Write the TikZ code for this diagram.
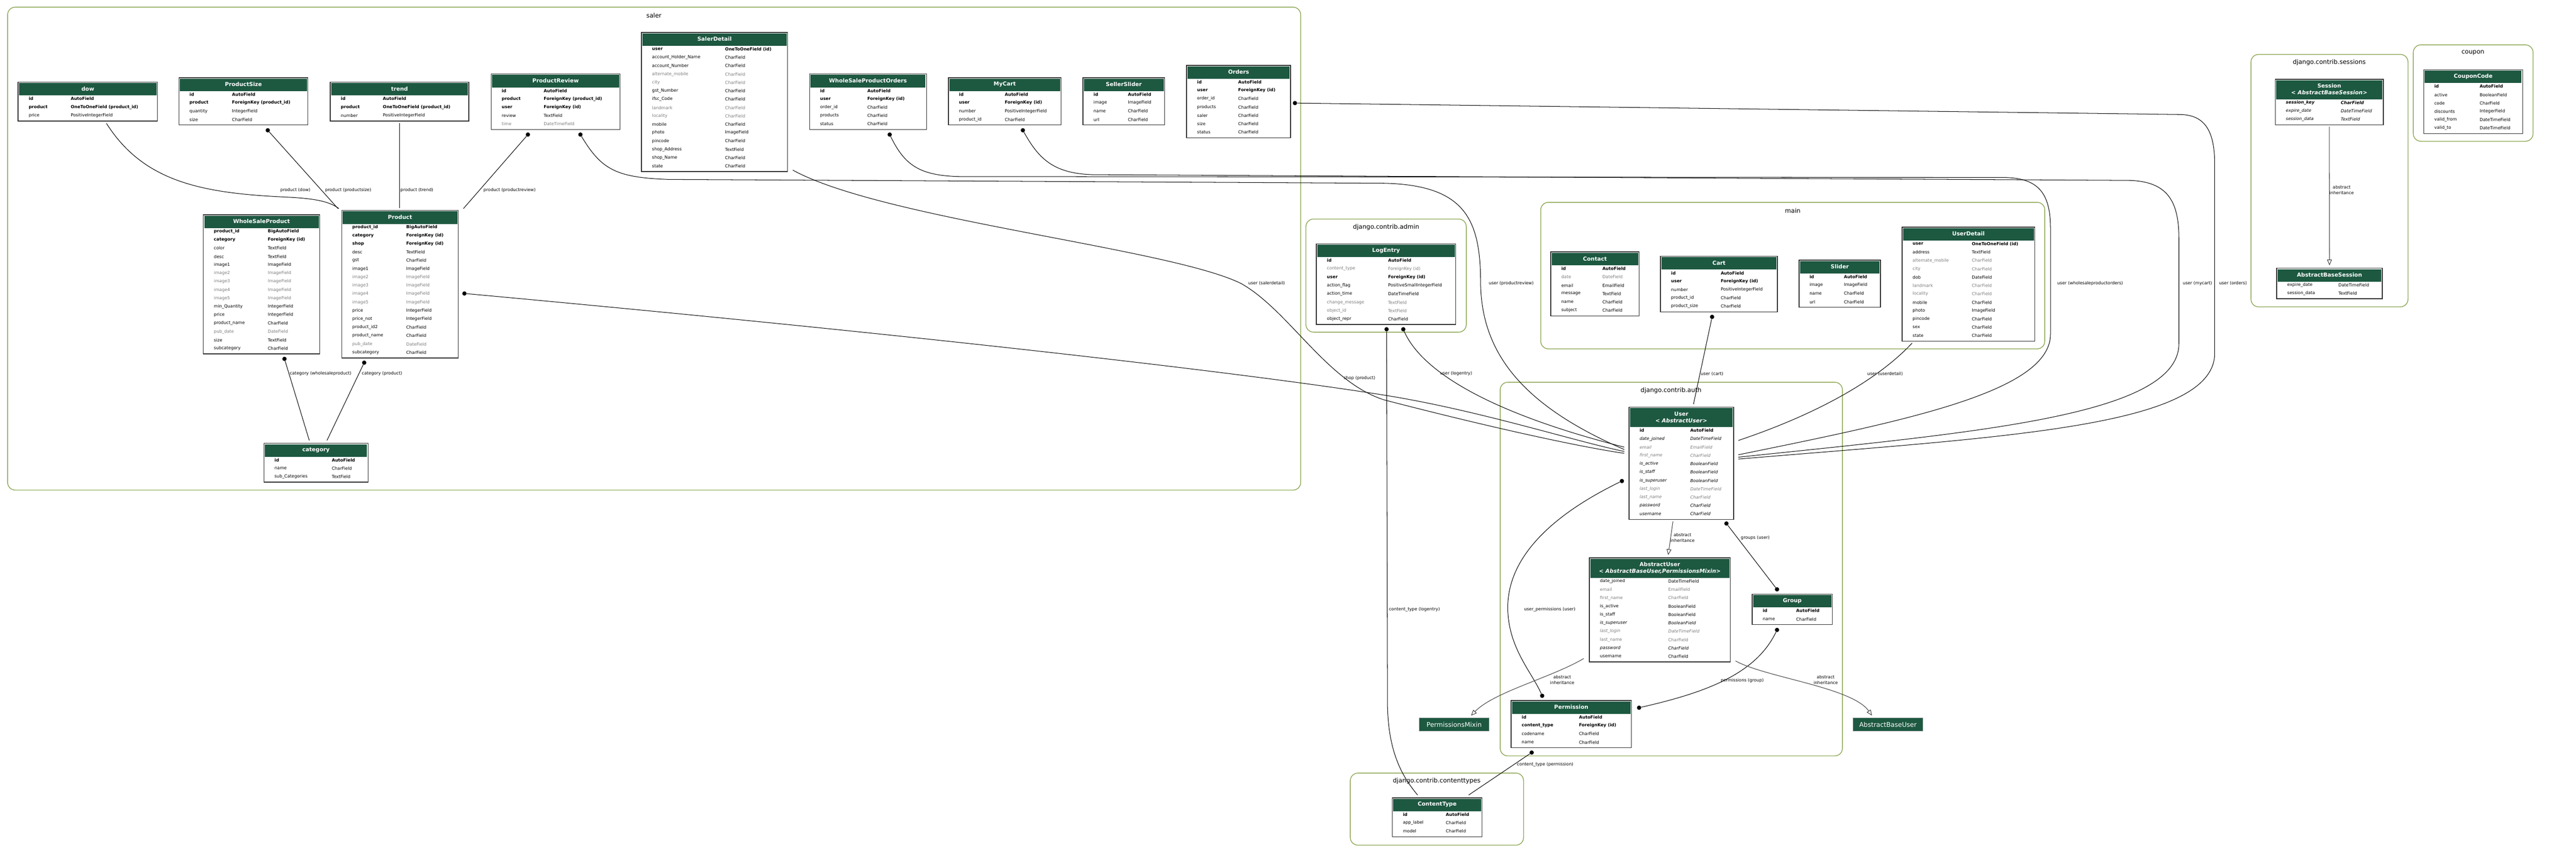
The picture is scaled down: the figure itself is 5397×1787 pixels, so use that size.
\documentclass[tikz,border=0pt]{standalone}
\usepackage{fontspec}
\setmainfont{DejaVu Sans}
\usetikzlibrary{arrows.meta}

\definecolor{hdrgreen}{RGB}{29,88,65}
\definecolor{pkgolive}{RGB}{138,165,80}
\definecolor{nullgrey}{RGB}{125,125,125}

% field looks
\newcommand{\mkey}{\bfseries}
\newcommand{\mplain}{}
\newcommand{\mnull}{\color{nullgrey}}
\newcommand{\mital}{\itshape}
\newcommand{\mnullital}{\color{nullgrey}\itshape}
\newcommand{\mkeyital}{\bfseries\itshape}

% name, x, y, width, type column, rows, header height, title, fields
\newcommand{\modeltable}[9]{%
  \node[tblbox, minimum width=#4, minimum height={#7+17.5*#6+1}, anchor=north west] (#1) at (#2,#3) {};
  \fill[hdrgreen] ([shift={(2,2)}]#1.north west) rectangle ([shift={(-2,#7)}]#1.north east);
  \node[tbltitle] (#1-title) at ([shift={(0,{#7/2})}]#1.north) {#8};
  \foreach \s/\f/\t [count=\i] in {#9} {
    \pgfmathsetmacro\rowy{#7+7+17.5*(\i-1)}
    \node[fieldtext] (#1-f\i) at ([shift={(22,\rowy)}]#1.north west) {\s\f};
    \node[fieldtext] (#1-t\i) at ([shift={(#5,\rowy)}]#1.north west) {\s\t};
  }
  \draw[tblline] (#1.north west) rectangle (#1.south east);
}

\begin{document}
\begin{tikzpicture}[x=1pt, y=-1pt,
  tblbox/.style={rectangle, fill=white, inner sep=0pt, outer sep=0pt},
  tblline/.style={draw={rgb,255:red,45;green,45;blue,45}, line width=1.6pt},
  tbltitle/.style={text=white, font=\fontsize{11.5}{14}\selectfont\bfseries, align=center, inner sep=0pt},
  fieldtext/.style={anchor=west, inner sep=0pt, font=\fontsize{9}{10}\selectfont},
  pkgframe/.style={draw=pkgolive, line width=1.5pt, rounded corners=16pt},
  pkgtitle/.style={font=\fontsize{13}{15}\selectfont, inner sep=0pt},
  fkdot/.style={circle, fill=black, inner sep=0pt, minimum size=9pt},
  fkline/.style={draw=black, line width=1.1pt},
  inhline/.style={draw={rgb,255:red,60;green,60;blue,60}, line width=1.1pt, -{Triangle[open, length=12pt, width=10pt]}},
  rellbl/.style={font=\fontsize{9}{11}\selectfont, inner sep=0pt, anchor=west},
  inhlbl/.style={font=\fontsize{9}{11.5}\selectfont, inner sep=0pt, align=center},
  basebox/.style={fill=hdrgreen, draw=gray!50, line width=1pt, text=white, minimum width=147pt, minimum height=28pt, font=\fontsize{13.5}{15}\selectfont, inner sep=0pt}]
\useasboundingbox (0,0) rectangle (5397,1787);

% draw app frames
\draw[pkgframe] (16,15) rectangle (2725,1027);
\node[pkgtitle] (saler) at (1370,32) {saler};
\draw[pkgframe] (2736,459) rectangle (3072,696);
\node[pkgtitle] (admin) at (2904,476) {django.contrib.admin};
\draw[pkgframe] (3228,424) rectangle (4284,731);
\node[pkgtitle] (main) at (3756,441) {main};
\draw[pkgframe] (3143,801) rectangle (3860,1584);
\node[pkgtitle] (auth) at (3501,818) {django.contrib.auth};
\draw[pkgframe] (2829,1620) rectangle (3192,1771);
\node[pkgtitle] (contenttypes) at (3010,1637) {django.contrib.contenttypes};
\draw[pkgframe] (4716,114) rectangle (5045,643);
\node[pkgtitle] (sessions) at (4880,131) {django.contrib.sessions};
\draw[pkgframe] (5056,94) rectangle (5307,296);
\node[pkgtitle] (coupon) at (5181,111) {coupon};

% models of saler
\modeltable{dow}{38}{172}{292}{110}{3}{28}{dow}{\mkey/id/AutoField,
  \mkey/product/OneToOneField (product\_id), \mplain/price/PositiveIntegerField}
\modeltable{productsize}{375}{163}{270}{111}{4}{28}{ProductSize}{\mkey/id/AutoField,
  \mkey/product/ForeignKey (product\_id), \mplain/quantity/IntegerField, \mplain/size/CharField}
\modeltable{trend}{692}{172}{290}{110}{3}{28}{trend}{\mkey/id/AutoField,
  \mkey/product/OneToOneField (product\_id), \mplain/number/PositiveIntegerField}
\modeltable{productreview}{1029}{155}{270}{110}{5}{28}{ProductReview}{\mkey/id/AutoField,
  \mkey/product/ForeignKey (product\_id), \mkey/user/ForeignKey (id),
  \mplain/review/TextField, \mnull/time/DateTimeField}
\modeltable{salerdetail}{1344}{68}{306}{175}{15}{28}{SalerDetail}{\mkey/user/OneToOneField (id),
  \mplain/account\_Holder\_Name/CharField, \mplain/account\_Number/CharField,
  \mnull/alternate\_mobile/CharField, \mnull/city/CharField, \mplain/gst\_Number/CharField,
  \mplain/ifsc\_Code/CharField, \mnull/landmark/CharField, \mnull/locality/CharField,
  \mplain/mobile/CharField, \mplain/photo/ImageField, \mplain/pincode/CharField,
  \mplain/shop\_Address/TextField, \mplain/shop\_Name/CharField, \mplain/state/CharField}
\modeltable{wspo}{1696}{155}{245}{121}{5}{28}{WholeSaleProductOrders}{\mkey/id/AutoField,
  \mkey/user/ForeignKey (id), \mplain/order\_id/CharField, \mplain/products/CharField,
  \mplain/status/CharField}
\modeltable{mycart}{1987}{163}{236}{118}{4}{28}{MyCart}{\mkey/id/AutoField,
  \mkey/user/ForeignKey (id), \mplain/number/PositiveIntegerField, \mplain/product\_id/CharField}
\modeltable{sellerslider}{2269}{163}{171}{94}{4}{28}{SellerSlider}{\mkey/id/AutoField,
  \mplain/image/ImageField, \mplain/name/CharField, \mplain/url/CharField}
\modeltable{orders}{2486}{137}{218}{108}{7}{28}{Orders}{\mkey/id/AutoField,
  \mkey/user/ForeignKey (id), \mplain/order\_id/CharField, \mplain/products/CharField,
  \mplain/saler/CharField, \mplain/size/CharField, \mplain/status/CharField}
\modeltable{wsp}{426}{450}{244}{135}{15}{28}{WholeSaleProduct}{\mkey/product\_id/BigAutoField,
  \mkey/category/ForeignKey (id), \mplain/color/TextField, \mplain/desc/TextField,
  \mplain/image1/ImageField, \mnull/image2/ImageField, \mnull/image3/ImageField,
  \mnull/image4/ImageField, \mnull/image5/ImageField, \mplain/min\_Quantity/IntegerField,
  \mplain/price/IntegerField, \mplain/product\_name/CharField, \mnull/pub\_date/DateField,
  \mplain/size/TextField, \mplain/subcategory/CharField}
\modeltable{product}{716}{441}{244}{135}{16}{28}{Product}{\mkey/product\_id/BigAutoField,
  \mkey/category/ForeignKey (id), \mkey/shop/ForeignKey (id), \mplain/desc/TextField,
  \mplain/gst/CharField, \mplain/image1/ImageField, \mnull/image2/ImageField,
  \mnull/image3/ImageField, \mnull/image4/ImageField, \mnull/image5/ImageField,
  \mplain/price/IntegerField, \mplain/price\_not/IntegerField, \mplain/product\_id2/CharField,
  \mplain/product\_name/CharField, \mnull/pub\_date/DateField, \mplain/subcategory/CharField}
\modeltable{category}{553}{929}{218}{142}{3}{28}{category}{\mkey/id/AutoField,
  \mplain/name/CharField, \mplain/sub\_Categories/TextField}

% admin, main
\modeltable{logentry}{2758}{511}{292}{150}{8}{28}{LogEntry}{\mkey/id/AutoField,
  \mnull/content\_type/ForeignKey (id), \mkey/user/ForeignKey (id),
  \mplain/action\_flag/PositiveSmallIntegerField, \mplain/action\_time/DateTimeField,
  \mnull/change\_message/TextField, \mnull/object\_id/TextField, \mplain/object\_repr/CharField}
\modeltable{contact}{3249}{528}{185}{108}{6}{28}{Contact}{\mkey/id/AutoField,
  \mnull/date/DateField, \mplain/email/EmailField, \mplain/message/TextField,
  \mplain/name/CharField, \mplain/subject/CharField}
\modeltable{cart}{3479}{537}{245}{126}{5}{28}{Cart}{\mkey/id/AutoField,
  \mkey/user/ForeignKey (id), \mplain/number/PositiveIntegerField,
  \mplain/product\_id/CharField, \mplain/product\_size/CharField}
\modeltable{slider}{3769}{545}{171}{94}{4}{28}{Slider}{\mkey/id/AutoField,
  \mplain/image/ImageField, \mplain/name/CharField, \mplain/url/CharField}
\modeltable{userdetail}{3985}{476}{278}{146}{12}{28}{UserDetail}{\mkey/user/OneToOneField (id),
  \mplain/address/TextField, \mnull/alternate\_mobile/CharField, \mnull/city/CharField,
  \mplain/dob/DateField, \mnull/landmark/CharField, \mnull/locality/CharField,
  \mplain/mobile/CharField, \mplain/photo/ImageField, \mplain/pincode/CharField,
  \mplain/sex/CharField, \mplain/state/CharField}

% auth, contenttypes
\modeltable{user}{3413}{853}{219}{128}{11}{42}{User\\< \textit{AbstractUser}>}{\mkey/id/AutoField,
  \mital/date\_joined/DateTimeField, \mnullital/email/EmailField,
  \mnullital/first\_name/CharField, \mital/is\_active/BooleanField,
  \mital/is\_staff/BooleanField, \mital/is\_superuser/BooleanField,
  \mnullital/last\_login/DateTimeField, \mnullital/last\_name/CharField,
  \mital/password/CharField, \mital/username/CharField}
\modeltable{abstractuser}{3330}{1169}{295}{165}{10}{42}{AbstractUser\\< \textit{AbstractBaseUser,PermissionsMixin}>}{\mplain/date\_joined/DateTimeField,
  \mnull/email/EmailField, \mnull/first\_name/CharField, \mplain/is\_active/BooleanField,
  \mplain/is\_staff/BooleanField, \mital/is\_superuser/BooleanField,
  \mnullital/last\_login/DateTimeField, \mnull/last\_name/CharField,
  \mital/password/CharField, \mplain/username/CharField}
\modeltable{group}{3671}{1245}{168}{92}{2}{28}{Group}{\mkey/id/AutoField, \mplain/name/CharField}
\modeltable{permission}{3166}{1468}{252}{142}{4}{28}{Permission}{\mkey/id/AutoField,
  \mkey/content\_type/ForeignKey (id), \mplain/codename/CharField, \mplain/name/CharField}
\modeltable{contenttype}{2917}{1672}{188}{112}{3}{28}{ContentType}{\mkey/id/AutoField,
  \mplain/app\_label/CharField, \mplain/model/CharField}
\node[basebox] (permmixin) at (3046.5,1518) {PermissionsMixin};
\node[basebox] (abstractbaseuser) at (3955.5,1518) {AbstractBaseUser};

% sessions, coupon
\modeltable{session}{4767}{166}{226}{137}{3}{42}{Session\\< \textit{AbstractBaseSession}>}{\mkeyital/session\_key/CharField,
  \mital/expire\_date/DateTimeField, \mital/session\_data/TextField}
\modeltable{abstractbasesession}{4770}{562}{221}{129}{2}{28}{AbstractBaseSession}{\mplain/expire\_date/DateTimeField,
  \mplain/session\_data/TextField}
\modeltable{couponcode}{5078}{146}{207}{117}{6}{28}{CouponCode}{\mkey/id/AutoField,
  \mplain/active/BooleanField, \mplain/code/CharField, \mplain/discounts/IntegerField,
  \mplain/valid\_from/DateTimeField, \mplain/valid\_to/DateTimeField}

% foreign key dots
\node[fkdot] (sizedot) at (561,273) {};
\node[fkdot] (reviewdot) at (1106,282) {};
\node[fkdot] (reviewuserdot) at (1216,282) {};
\node[fkdot] (wspodot) at (1864,282) {};
\node[fkdot] (mycartdot) at (2143,273) {};
\node[fkdot] (ordersdot) at (2713,216) {};
\node[fkdot] (shopdot) at (973,615) {};
\node[fkdot] (wspdot) at (596,752) {};
\node[fkdot] (proddot) at (763,760) {};
\node[fkdot] (logctdot) at (2905,690) {};
\node[fkdot] (loguserdot) at (2940,690) {};
\node[fkdot] (cartdot) at (3587,664) {};
\node[fkdot] (usergroupdot) at (3617,1097) {};
\node[fkdot] (groupuserdot) at (3723,1235) {};
\node[fkdot] (userpermdot) at (3398,1008) {};
\node[fkdot] (permuserdot) at (3231,1458) {};
\node[fkdot] (grouppermdot) at (3723,1320) {};
\node[fkdot] (permgroupdot) at (3434,1483) {};
\node[fkdot] (permctdot) at (3209,1577) {};

% relations to product and category
\draw[fkline] ([shift={(39,5)}]dow.south) .. controls (300,380) and (420,405) .. (600,413)
  .. controls (660,416) and (690,422) .. ([shift={(-6,-4)}]product.north west);
\draw[fkline] (sizedot) -- ([shift={(-8,-4)}]product.north west);
\draw[fkline] ([shift={(0,5)}]trend.south) -- ([shift={(-1,-5)}]product.north);
\draw[fkline] (reviewdot) -- ([shift={(11,-4)}]product.north east);
\draw[fkline] (wspdot) -- ([shift={(-14,-6)}]category.north);
\draw[fkline] (proddot) -- ([shift={(23,-6)}]category.north);

% relations to user, left side
\draw[fkline] (reviewuserdot) .. controls (1260,355) and (1290,372) .. (1400,376) -- (2900,384)
  .. controls (3070,388) and (3102,460) .. (3102,594)
  .. controls (3104,740) and (3190,850) .. ([shift={(-10,89)}]user.north west);
\draw[fkline] ([shift={(11,-3)}]salerdetail.south east) .. controls (1850,460) and (2450,520) .. (2600,594)
  .. controls (2700,650) and (2780,800) .. (2900,838)
  .. controls (3100,890) and (3300,935) .. ([shift={(-10,97)}]user.north west);
\draw[fkline] (shopdot) .. controls (1900,700) and (2600,780) .. (2900,828)
  .. controls (3100,860) and (3300,925) .. ([shift={(-10,93)}]user.north west);
\draw[fkline] (loguserdot) .. controls (2975,770) and (3100,860) .. ([shift={(-10,84)}]user.north west);

% relations to user, right side
\draw[fkline] (wspodot) .. controls (1895,345) and (1925,368) .. (2010,370) -- (4200,372)
  .. controls (4275,373) and (4296,410) .. (4296,480) -- (4296,700)
  .. controls (4296,820) and (4000,880) .. ([shift={(10,100)}]user.north east);
\draw[fkline] (mycartdot) .. controls (2175,330) and (2205,364) .. (2290,366) -- (4460,378)
  .. controls (4540,380) and (4565,420) .. (4565,500) -- (4565,720)
  .. controls (4565,870) and (4150,905) .. ([shift={(10,105)}]user.north east);
\draw[fkline] (ordersdot) -- (4570,240) .. controls (4620,242) and (4640,275) .. (4640,345) -- (4640,740)
  .. controls (4640,895) and (4200,915) .. ([shift={(10,109)}]user.north east);
\draw[fkline] ([shift={(21,4)}]userdetail.south west) .. controls (3930,800) and (3800,870) .. ([shift={(10,70)}]user.north east);
\draw[fkline] (cartdot) -- ([shift={(25.5,-6)}]user.north);

% auth and contenttypes
\draw[fkline] (logctdot) -- (2907,1480) .. controls (2909,1580) and (2940,1630) .. ([shift={(-41,-6)}]contenttype.north);
\draw[fkline] (permctdot) -- ([shift={(66,-6)}]contenttype.north);
\draw[fkline] (usergroupdot) -- (groupuserdot);
\draw[fkline] (userpermdot) .. controls (3250,1080) and (3155,1170) .. (3159,1280)
  .. controls (3162,1360) and (3210,1410) .. (permuserdot);
\draw[fkline] (grouppermdot) .. controls (3680,1410) and (3580,1450) .. (permgroupdot);

% abstract inheritance
\draw[inhline] ([shift={(-17.5,4)}]user.south) -- ([shift={(17.5,-6)}]abstractuser.north);
\draw[inhline] ([shift={(-12,-7)}]abstractuser.south west) .. controls (3250,1420) and (3130,1450) .. ([shift={(35.5,-4)}]permmixin.north);
\draw[inhline] ([shift={(11,-2)}]abstractuser.south east) .. controls (3700,1420) and (3880,1440) .. ([shift={(-33.5,-4)}]abstractbaseuser.north);
\draw[inhline] ([shift={(0,4)}]session.south) -- ([shift={(0,-6)}]abstractbasesession.north);

% relation labels
\node[rellbl] (lbldow) at (587,399) {product (dow)};
\node[rellbl] (lblsize) at (681,399) {product (productsize)};
\node[rellbl] (lbltrend) at (839,399) {product (trend)};
\node[rellbl] (lblreview) at (1013,399) {product (productreview)};
\node[rellbl] (lblcatwsp) at (607,783) {category (wholesaleproduct)};
\node[rellbl] (lblcatprod) at (758,783) {category (product)};
\node[rellbl] (lblsaler) at (2615,594) {user (salerdetail)};
\node[rellbl] (lblshop) at (2815,792) {shop (product)};
\node[rellbl] (lblrevuser) at (3119,594) {user (productreview)};
\node[rellbl] (lbllog) at (3017,783) {user (logentry)};
\node[rellbl] (lblcart) at (3563,783) {user (cart)};
\node[rellbl] (lbluserdetail) at (3912,783) {user (userdetail)};
\node[rellbl] (lblwspo) at (4310,594) {user (wholesaleproductorders)};
\node[rellbl] (lblmycart) at (4573,594) {user (mycart)};
\node[rellbl] (lblorders) at (4649,594) {user (orders)};
\node[rellbl] (lbllogct) at (2910,1277) {content\_type (logentry)};
\node[rellbl] (lbluperm) at (3193,1277) {user\_permissions (user)};
\node[rellbl] (lblgroups) at (3647,1127) {groups (user)};
\node[rellbl] (lblgperm) at (3605,1426) {permissions (group)};
\node[rellbl] (lblpermct) at (3178,1602) {content\_type (permission)};
\node[inhlbl] (inhuser) at (3525,1127) {abstract\\inheritance};
\node[inhlbl] (inhmixin) at (3273,1425) {abstract\\inheritance};
\node[inhlbl] (inhbase) at (3825,1425) {abstract\\inheritance};
\node[inhlbl] (inhsess) at (4906,398) {abstract\\inheritance};

\end{tikzpicture}
\end{document}
